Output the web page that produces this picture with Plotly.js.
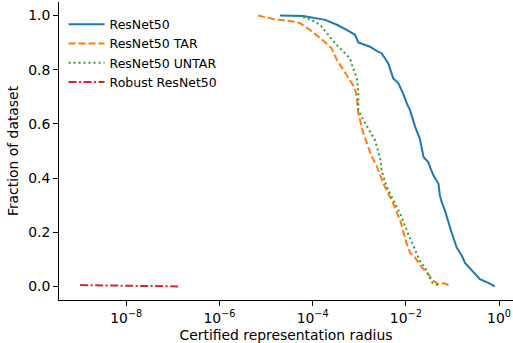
<!DOCTYPE html>
<html>
<head>
<meta charset="utf-8">
<script src="https://cdn.plot.ly/plotly-3.0.1.min.js"></script>
<style>html,body{margin:0;padding:0;background:#fff;}#chart{width:513px;height:343px;}</style>
</head>
<body>
<div id="chart"></div>
<script>
// log10 of certified radius, fraction of dataset
const resnetLog = [-4.70,-4.20,-3.73,-3.48,-3.27,-3.09,-3.02,-2.77,-2.60,-2.52,-2.38,-2.27,-2.16,-2.06,-1.97,-1.91,-1.80,-1.70,-1.62,-1.52,-1.41,-1.30,-1.27,-1.23,-1.16,-1.09,-1.02,-0.91,-0.80,-0.73,-0.55,-0.41,-0.23,-0.09];
const resnetFrac = [1.0,0.998,0.984,0.966,0.947,0.929,0.901,0.885,0.867,0.861,0.824,0.768,0.750,0.713,0.672,0.651,0.589,0.546,0.478,0.459,0.410,0.379,0.336,0.311,0.280,0.237,0.200,0.144,0.114,0.087,0.052,0.027,0.013,0.0];

const tarLog = [-5.17,-4.84,-4.42,-4.27,-4.06,-3.81,-3.59,-3.48,-3.34,-3.09,-3.05,-3.02,-2.91,-2.73,-2.63,-2.48,-2.27,-2.12,-1.98,-1.91,-1.80,-1.67,-1.55,-1.41,-1.30,-1.18,-1.05];
const tarFrac = [1.0,0.987,0.978,0.972,0.947,0.913,0.879,0.836,0.799,0.731,0.694,0.639,0.564,0.478,0.447,0.379,0.305,0.243,0.157,0.125,0.106,0.073,0.051,0.021,0.009,0.012,0.003];

const untarLog = [-4.31,-4.02,-3.84,-3.70,-3.52,-3.34,-3.20,-3.13,-3.05,-3.02,-3.02,-2.91,-2.77,-2.66,-2.55,-2.52,-2.41,-2.27,-2.12,-1.95,-1.80,-1.70,-1.55,-1.44,-1.27];
const untarFrac = [1.0,0.984,0.966,0.935,0.898,0.867,0.842,0.805,0.768,0.719,0.651,0.614,0.570,0.539,0.472,0.429,0.367,0.317,0.268,0.194,0.132,0.095,0.058,0.015,0.0];

const robustLog = [-8.99,-7.9,-6.85];
const robustFrac = [0.005,0.003,0.0];

const seriesNames = ["ResNet50","ResNet50 TAR","ResNet50 UNTAR","Robust ResNet50"];
const xTickExp = [-8,-6,-4,-2,0];
const xTickText = ["10<sup>−8</sup>","10<sup>−6</sup>","10<sup>−4</sup>","10<sup>−2</sup>","10<sup>0</sup>"];
const yTicks = [0,0.2,0.4,0.6,0.8,1.0];

const pow10 = a => a.map(v => Math.pow(10, v));
const font = "DejaVu Sans, sans-serif";
const fs = 13.9;

const traces = [
  {x: pow10(resnetLog), y: resnetFrac, name: seriesNames[0], mode: "lines", line: {color: "#1f77b4", width: 2}},
  {x: pow10(tarLog), y: tarFrac, name: seriesNames[1], mode: "lines", line: {color: "#ff7f0e", width: 2, dash: "7px,3px"}},
  {x: pow10(untarLog), y: untarFrac, name: seriesNames[2], mode: "lines", line: {color: "#2ca02c", width: 2, dash: "2px,3px"}},
  {x: pow10(robustLog), y: robustFrac, name: seriesNames[3], mode: "lines", line: {color: "#d62728", width: 2, dash: "8px,2.5px,2px,2.5px"}}
];

const layout = {
  width: 513, height: 343,
  margin: {l: 59, r: 0, t: 2, b: 43},
  paper_bgcolor: "#fff", plot_bgcolor: "#fff",
  font: {family: font, size: fs, color: "#000"},
  showlegend: true,
  legend: {x: 0.01, y: 0.974, xanchor: "left", yanchor: "top", bgcolor: "rgba(0,0,0,0)", borderwidth: 0, font: {size: 12.5}, itemwidth: 36, tracegroupgap: 0},
  xaxis: {
    type: "log", range: [-9.444, 0.30],
    tickmode: "array", tickvals: pow10(xTickExp), ticktext: xTickText,
    ticks: "outside", ticklen: 5, tickwidth: 1, tickcolor: "#000",
    showline: true, linecolor: "#000", linewidth: 1, mirror: false,
    showgrid: false, zeroline: false,
    tickfont: {size: fs},
    title: {text: "Certified representation radius", font: {size: fs}, standoff: 7}
  },
  yaxis: {
    range: [-0.05, 1.05],
    tickmode: "array", tickvals: yTicks, tickformat: ".1f",
    ticks: "outside", ticklen: 5, tickwidth: 1, tickcolor: "#000",
    showline: true, linecolor: "#000", linewidth: 1, mirror: false,
    showgrid: false, zeroline: false,
    tickfont: {size: fs},
    title: {text: "Fraction of dataset", font: {size: fs}, standoff: 6}
  }
};

Plotly.newPlot("chart", traces, layout, {displayModeBar: false, staticPlot: true});
</script>
</body>
</html>
